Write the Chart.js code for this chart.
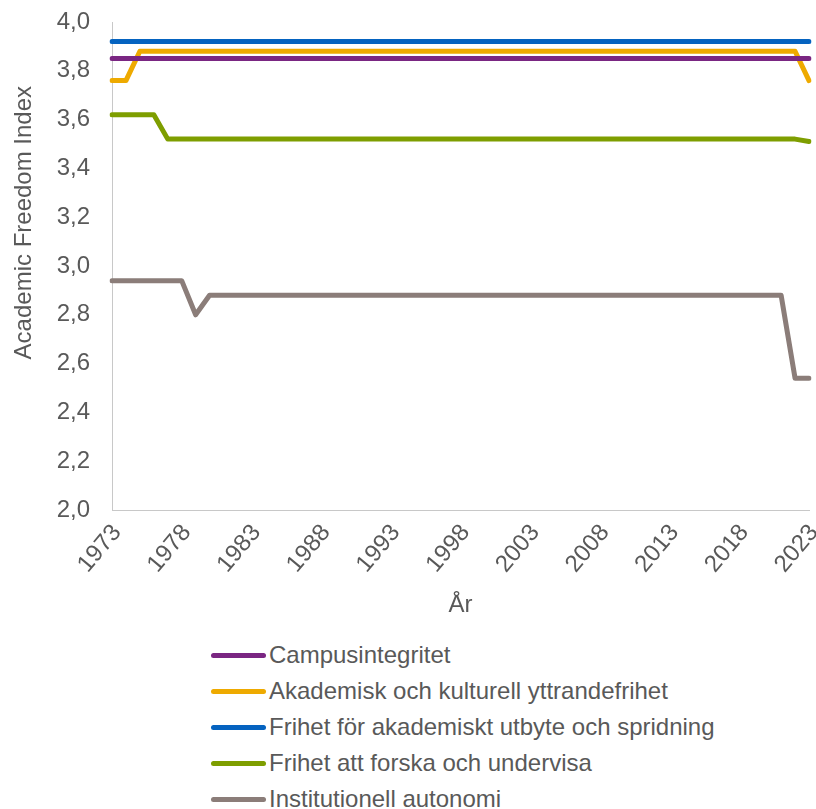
<!DOCTYPE html>
<html>
<head>
<meta charset="utf-8">
<script src="https://cdn.jsdelivr.net/npm/chart.js@4"></script>
<style>
  body { margin: 0; background: #fff; font-family: "Liberation Sans", Arial, sans-serif; }
  #wrap { position: relative; width: 816px; height: 809px; overflow: hidden; }
  #chart-container { display: block; }
  #legend { position: absolute; left: 211px; top: 637px; }
  .item { display: flex; align-items: center; height: 36px; color: #595959; font-size: 24px; white-space: nowrap; }
  .swatch { width: 55px; height: 5px; border-radius: 3px; margin-right: 3px; }
</style>
</head>
<body>
<div id="wrap">
  <canvas id="chart-container" width="816" height="630"></canvas>
  <div id="legend"></div>
</div>
<script>
const years = ['1973','1974','1975','1976','1977','1978','1979','1980','1981','1982',
  '1983','1984','1985','1986','1987','1988','1989','1990','1991','1992',
  '1993','1994','1995','1996','1997','1998','1999','2000','2001','2002',
  '2003','2004','2005','2006','2007','2008','2009','2010','2011','2012',
  '2013','2014','2015','2016','2017','2018','2019','2020','2021','2022','2023'];

const campusintegritet = [3.85,3.85,3.85,3.85,3.85,3.85,3.85,3.85,3.85,3.85,
  3.85,3.85,3.85,3.85,3.85,3.85,3.85,3.85,3.85,3.85,
  3.85,3.85,3.85,3.85,3.85,3.85,3.85,3.85,3.85,3.85,
  3.85,3.85,3.85,3.85,3.85,3.85,3.85,3.85,3.85,3.85,
  3.85,3.85,3.85,3.85,3.85,3.85,3.85,3.85,3.85,3.85,3.85];

const yttrandefrihet = [3.76,3.76,3.88,3.88,3.88,3.88,3.88,3.88,3.88,3.88,
  3.88,3.88,3.88,3.88,3.88,3.88,3.88,3.88,3.88,3.88,
  3.88,3.88,3.88,3.88,3.88,3.88,3.88,3.88,3.88,3.88,
  3.88,3.88,3.88,3.88,3.88,3.88,3.88,3.88,3.88,3.88,
  3.88,3.88,3.88,3.88,3.88,3.88,3.88,3.88,3.88,3.88,3.76];

const utbyte = [3.92,3.92,3.92,3.92,3.92,3.92,3.92,3.92,3.92,3.92,
  3.92,3.92,3.92,3.92,3.92,3.92,3.92,3.92,3.92,3.92,
  3.92,3.92,3.92,3.92,3.92,3.92,3.92,3.92,3.92,3.92,
  3.92,3.92,3.92,3.92,3.92,3.92,3.92,3.92,3.92,3.92,
  3.92,3.92,3.92,3.92,3.92,3.92,3.92,3.92,3.92,3.92,3.92];

const forskaUndervisa = [3.62,3.62,3.62,3.62,3.52,3.52,3.52,3.52,3.52,3.52,
  3.52,3.52,3.52,3.52,3.52,3.52,3.52,3.52,3.52,3.52,
  3.52,3.52,3.52,3.52,3.52,3.52,3.52,3.52,3.52,3.52,
  3.52,3.52,3.52,3.52,3.52,3.52,3.52,3.52,3.52,3.52,
  3.52,3.52,3.52,3.52,3.52,3.52,3.52,3.52,3.52,3.52,3.51];

const autonomi = [2.94,2.94,2.94,2.94,2.94,2.94,2.80,2.88,2.88,2.88,
  2.88,2.88,2.88,2.88,2.88,2.88,2.88,2.88,2.88,2.88,
  2.88,2.88,2.88,2.88,2.88,2.88,2.88,2.88,2.88,2.88,
  2.88,2.88,2.88,2.88,2.88,2.88,2.88,2.88,2.88,2.88,
  2.88,2.88,2.88,2.88,2.88,2.88,2.88,2.88,2.88,2.54,2.54];

const seriesNames = ['Campusintegritet', 'Akademisk och kulturell yttrandefrihet',
  'Frihet för akademiskt utbyte och spridning', 'Frihet att forska och undervisa',
  'Institutionell autonomi'];
const seriesColors = ['#7A2682', '#EEAA00', '#0563C0', '#7E9E00', '#8B7D79'];
const seriesData = [campusintegritet, yttrandefrihet, utbyte, forskaUndervisa, autonomi];

const textColor = '#595959';
const axisColor = '#C8C8C8';

document.addEventListener('DOMContentLoaded', function() {
  const ctx = document.getElementById('chart-container').getContext('2d');

  const datasets = seriesNames.map((name, i) => ({
    label: name,
    data: seriesData[i],
    borderColor: seriesColors[i],
    backgroundColor: seriesColors[i],
    borderWidth: 5,
    borderCapStyle: 'round',
    borderJoinStyle: 'round',
    pointRadius: 0,
    tension: 0
  }));

  const chart = new Chart(ctx, {
    type: 'line',
    data: { labels: years, datasets: datasets },
    options: {
      responsive: false,
      animation: false,
      layout: { padding: { top: 22, right: 7, left: 0, bottom: 0 } },
      plugins: {
        legend: { display: false },
        tooltip: { enabled: false }
      },
      scales: {
        x: {
          grid: { display: false, drawTicks: false },
          border: { display: true, color: axisColor, width: 1 },
          ticks: {
            autoSkip: false,
            minRotation: 50,
            maxRotation: 50,
            padding: 9,
            labelOffset: 5,
            color: textColor,
            font: { family: 'Liberation Sans', size: 24 },
            callback: function(value, index) {
              return index % 5 === 0 ? years[index] : '';
            }
          },
          title: {
            display: true,
            text: 'År',
            color: textColor,
            font: { family: 'Liberation Sans', size: 24 },
            padding: { top: 0, bottom: 10 }
          },
          afterFit: function(scale) {
            scale.height = 120;
            scale.paddingLeft = 0;
            scale.paddingRight = 0;
          }
        },
        y: {
          min: 2.0,
          max: 4.0,
          grid: { display: false, drawTicks: false },
          border: { display: true, color: axisColor, width: 1 },
          ticks: {
            stepSize: 0.2,
            padding: 22,
            color: textColor,
            font: { family: 'Liberation Sans', size: 24 },
            callback: function(value) {
              return value.toFixed(1).replace('.', ',');
            }
          },
          title: {
            display: true,
            // leading spaces lift the title a little above the axis centre
            text: '\u00A0'.repeat(13) + 'Academic Freedom Index',
            color: textColor,
            font: { family: 'Liberation Sans', size: 24 },
            padding: { top: 10, bottom: 0 }
          },
          afterFit: function(scale) {
            scale.width = 112;
            scale.paddingTop = 0;
            scale.paddingBottom = 0;
          }
        }
      }
    }
  });

  // legend as a single left-aligned column under the chart
  const legendEl = document.getElementById('legend');
  chart.data.datasets.forEach(ds => {
    const row = document.createElement('div');
    row.className = 'item';
    const sw = document.createElement('span');
    sw.className = 'swatch';
    sw.style.background = ds.borderColor;
    const txt = document.createElement('span');
    txt.textContent = ds.label;
    row.appendChild(sw);
    row.appendChild(txt);
    legendEl.appendChild(row);
  });
});
</script>
</body>
</html>
